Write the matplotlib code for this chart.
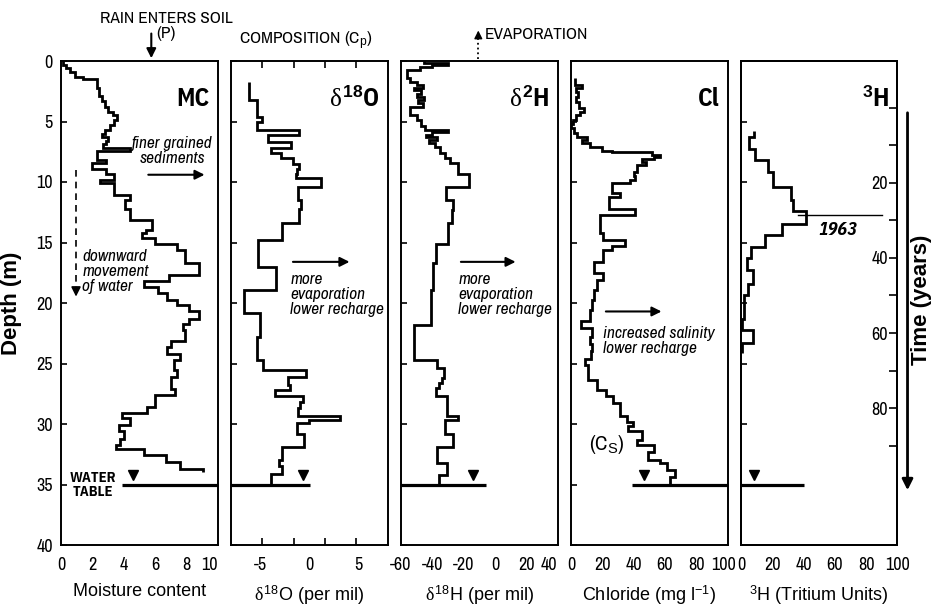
import numpy as np
import matplotlib
matplotlib.use('Agg')
import matplotlib.pyplot as plt

NARROW = ['Archivo Narrow', 'Liberation Sans', 'DejaVu Sans']
NARROW_BOLD = ['IBM Plex Sans Condensed', 'Liberation Sans', 'DejaVu Sans']
WIDE = ['Liberation Sans', 'DejaVu Sans']

plt.rcParams['font.family'] = NARROW
plt.rcParams['axes.unicode_minus'] = False
plt.rcParams['mathtext.fontset'] = 'custom'
plt.rcParams['mathtext.rm'] = 'Liberation Sans'
plt.rcParams['mathtext.it'] = 'Liberation Serif'
plt.rcParams['mathtext.bf'] = 'Liberation Sans:bold'

# ---- profiles: depth edges (m) and value in each interval ----
mc_depth = [0, 0.3, 0.6, 0.9, 1.3, 1.5, 2.2, 2.9, 3.3, 3.8, 4.2, 4.5, 4.9, 5.3, 5.7, 6.0,
            6.3, 6.6, 6.9, 7.2, 7.45, 8.2, 8.45, 8.9, 9.3, 9.8, 10.1, 11.1, 11.5, 12.2, 13.1,
            14.0, 14.2, 14.65, 15.1, 15.6, 16.7, 17.7, 18.2, 18.65, 19.2, 19.75, 20.2, 20.7,
            21.3, 21.7, 22.2, 23.1, 23.6, 24.2, 24.7, 25.5, 26.1, 27.1, 27.6, 28.6, 29.1, 29.5,
            30.1, 30.6, 31.2, 31.7, 32.1, 32.6, 33.1, 33.7, 34.0]
mc_value = [0.1, 0.3, 0.6, 0.9, 1.4, 2.3, 2.4, 2.6, 2.8, 3.0, 3.3, 3.6, 3.4, 3.1, 2.8,
            2.6, 3.0, 2.9, 2.7, 4.4, 2.3, 2.9, 2.0, 2.9, 3.4, 2.5, 3.4, 4.4, 4.1, 4.4,
            5.8, 5.4, 5.2, 6.0, 7.4, 7.9, 8.8, 6.9, 5.3, 6.2, 6.8, 7.4, 8.2, 8.8, 8.2,
            7.8, 7.95, 7.0, 6.8, 7.6, 7.2, 7.4, 7.0, 7.3, 6.0, 5.5, 3.9, 4.4, 3.7, 4.0,
            3.8, 3.5, 5.3, 6.7, 7.6, 9.1]

o18_depth = [1.7, 3.2, 4.6, 5.0, 5.7, 6.1, 6.7, 7.2, 7.6, 8.0, 8.5, 8.9, 9.3, 9.7, 10.4,
             11.5, 12.2, 13.4, 14.8, 17.0, 18.9, 20.85, 22.8, 24.7, 25.5, 26.1, 26.8, 27.2,
             27.7, 28.2, 28.7, 29.3, 29.7, 29.9, 30.8, 31.9, 33.0, 33.5, 34.1, 35.0]
o18_value = [-6.2, -5.3, -4.8, -5.3, -1.0, -4.2, -1.9, -3.9, -2.9, -1.7, -1.0, -1.3, -1.4,
             1.2, -1.15, -0.8, -1.0, -2.8, -5.25, -3.4, -6.7, -5.0, -5.35, -4.7, -0.3, -2.2,
             -1.95, -3.5, -0.65, -0.95, -1.2, 3.1, 0.0, -1.3, -0.5, -2.8, -3.05, -2.8, -3.9]

h2_depth = [0, 0.2, 0.35, 0.5, 0.75, 1.4, 1.7, 2.0, 2.2, 2.4, 2.7, 3.0, 3.2, 3.5, 3.8, 4.46,
            4.9, 5.4, 5.7, 5.85, 6.1, 6.3, 6.5, 6.8, 7.08, 7.6, 8.0, 8.45, 9.3, 10.4, 11.5,
            12.3, 13.4, 15.1, 16.7, 18.9, 21.8, 24.7, 25.4, 26.2, 26.6, 27.05, 27.7, 29.3,
            29.7, 30.8, 31.9, 33.25, 34.2, 35.0]
h2_value = [-45, -30, -40, -48, -56, -54, -50, -46, -52, -47, -50, -45, -49, -46, -54, -50,
            -47, -44.5, -30, -40, -44, -37, -42, -38, -35, -32, -28.6, -23.3, -16.8, -31.2,
            -26.5, -27.6, -29.7, -37.6, -39.3, -41, -51.7, -37.1, -32.4, -33.9, -36, -37.8,
            -30.7, -23.3, -31.8, -26.5, -36.7, -30.3, -35.4]

cl_depth = [1.43, 1.98, 2.26, 2.6, 3.0, 3.4, 3.9, 4.2, 4.46, 4.88, 5.2, 5.5, 5.98, 6.25, 6.5,
            6.8, 7.08, 7.4, 7.5, 7.77, 7.95, 8.13, 8.35, 8.6, 9.15, 9.5, 9.83, 10.1, 10.9,
            11.2, 12.2, 12.7, 14.2, 14.8, 15.3, 15.6, 16.6, 17.5, 18.1, 18.9, 19.75, 20.6,
            21.5, 22.1, 22.8, 23.4, 24.0, 24.6, 25.1, 26.4, 27.2, 27.7, 28.3, 29.3, 29.8,
            30.2, 30.6, 31.3, 31.7, 32.3, 33.0, 33.25, 33.8, 34.35, 35.0]
cl_value = [2.5, 7, 3, 4.5, 3.5, 5, 8, 6, 3.5, 1, 0.3, 2, 4, 10, 7, 12.2, 19.7, 26, 51.7,
            57, 53, 45.3, 48, 42, 40, 41, 37.8, 26, 31, 24, 41, 18.6, 20.7, 34.6, 26, 20.7,
            15, 20.7, 16.7, 15, 13.2, 12, 6.2, 13.2, 12, 13.5, 12.5, 9, 11, 16.5, 22.4, 27,
            31.4, 35.7, 39.5, 36.5, 45.3, 42, 52.8, 48.9, 57, 61.3, 66.7, 63.5]

h3_depth = [5.8, 6.3, 7.3, 8.2, 9.15, 10.4, 11.5, 12.4, 13.5, 14.4, 15.35, 16.3, 17.3, 18.4,
            19.3, 20.3, 21.3, 22.2, 23.3, 24.1]
h3_value = [8.3, 5.3, 8.9, 17.4, 20.2, 31.8, 33.3, 41.4, 25.9, 15.3, 6.2, 4.0, 7.9, 4.5,
            1.9, 1.6, 0.4, 7.4, 0.4]

# water table: depth, line extent and triangle position in each panel
wt_depth = 35
wt_lines = [(3.9, 10), (-8, 0.1), (-60, -5.5), (38.9, 100), (0, 40)]
wt_marks = [4.6, -0.6, -14, 46.8, 8.3]

# axes ranges and tick labels
xlims = [(0, 10), (-8, 8), (-60, 40), (0, 100), (0, 100)]
xtick_pos = [[0, 2, 4, 6, 8, 10], [-5, 0, 5], [-60, -40, -20, 0, 20, 40],
             [0, 20, 40, 60, 80, 97.5], [0, 20, 40, 60, 80, 100]]
xtick_lab = [['0', '2', '4', '6', '8', '10'], ['-5', '0', '5'],
             ['-60', '-40', '-20', '0', '20', '40'],
             ['0', '20', '40', '60', '80', '100'], ['0', '20', '40', '60', '80', '100']]
xlabels = ['Moisture content', r'$\delta^{18}$O (per mil)', r'$\delta^{18}$H (per mil)',
           r'Chloride (mg l$^{-1}$)', r'$^{3}$H (Tritium Units)']
titles = ['MC', r'$\delta^{\mathbf{18}}$O', r'$\delta^{\mathbf{2}}$H', 'Cl', r'$^{\mathbf{3}}$H']
last_label_right = [True, False, True, False, False]

time_major = [20, 40, 60, 80]
time_minor = [0, 10, 30, 50, 70, 90]

profiles = [(mc_value, mc_depth), (o18_value, o18_depth), (h2_value, h2_depth),
            (cl_value, cl_depth), (h3_value, h3_depth)]

W, H = 936.0, 608.0
fig = plt.figure(figsize=(9.36, 6.08), dpi=100)

axes = []
for i in range(5):
    ax = fig.add_axes([(61 + 170 * i) / W, 1 - 545 / H, 156.5 / W, 484 / H])
    lo, hi = xlims[i]
    ax.set_xlim(lo, hi)
    ax.set_ylim(40, 0)
    vals, edges = profiles[i]
    ax.stairs(vals, edges, orientation='horizontal', baseline=None, color='k', lw=2.0)

    ax.set_xticks(xtick_pos[i])
    ax.set_xticklabels(xtick_lab[i])
    ax.set_xticks(lo + (hi - lo) * np.array([0.2, 0.4, 0.6, 0.8]), minor=True)
    ax.tick_params(axis='x', which='major', length=0, pad=9, labelsize=13)
    ax.tick_params(axis='x', which='minor', direction='in', length=5, width=1.2,
                   top=True, bottom=True)
    if last_label_right[i]:
        ax.get_xticklabels()[-1].set_horizontalalignment('right')
    ax.set_yticks(np.arange(0, 41, 5))
    ax.tick_params(axis='y', which='major', direction='in', length=4, width=1.2,
                   labelleft=(i == 0), pad=6, labelsize=13)
    ax.set_xlabel(xlabels[i], fontsize=13, family=WIDE, labelpad=7)
    for s in ax.spines.values():
        s.set_linewidth(1.4)

    # water table
    ax.plot(wt_lines[i], [wt_depth, wt_depth], color='k', lw=2.3, solid_capstyle='butt',
            clip_on=False)
    ax.plot(wt_marks[i], wt_depth - 0.75, marker='v', ms=7, color='k')

    ax.text(0.95, 3.1, titles[i], transform=ax.get_yaxis_transform(), ha='right',
            va='center', fontsize=18, fontweight='bold', family=NARROW_BOLD)
    axes.append(ax)

ax1, ax2, ax3, ax4, ax5 = axes
arrow = dict(arrowstyle='-|>', color='k', lw=1.5, mutation_scale=14)
ital = dict(fontsize=12.5, fontstyle='italic', linespacing=1.0)

# MC panel
ax1.set_ylabel('Depth (m)', fontsize=16, fontweight='bold', family=WIDE, labelpad=10)
ax1.text(7.1, 7.4, 'finer grained\nsediments', ha='center', va='center', **ital)
ax1.annotate('', xy=(9.35, 9.4), xytext=(5.4, 9.4), arrowprops=arrow)
ax1.plot([0.96, 0.96], [9.0, 19.0], color='k', lw=1.2, ls=(0, (4, 3)))
ax1.annotate('', xy=(0.96, 19.7), xytext=(0.96, 18.9),
             arrowprops=dict(arrowstyle='-|>', color='k', lw=1.2, mutation_scale=14))
ax1.text(1.35, 17.4, 'downward\nmovement\nof water', ha='left', va='center', **ital)
ax1.text(2.05, 35.0, 'WATER\nTABLE', ha='center', va='center', fontsize=10.5,
         fontweight='bold', family=NARROW_BOLD, linespacing=1.0)
ax1.annotate('', xy=(5.77, 0.0), xytext=(5.77, -2.5), arrowprops=arrow, annotation_clip=False)
ax1.text(6.73, -3.5, 'RAIN ENTERS SOIL', ha='center', va='center', fontsize=12.5)
ax1.text(6.7, -2.3, '(P)', ha='center', va='center', fontsize=12.5)

# delta 18O panel
ax2.text(-0.4, -1.65, r'COMPOSITION (C$_\mathrm{p}$)', ha='center', va='center', fontsize=12.5)
ax2.annotate('', xy=(4.4, 16.6), xytext=(-1.95, 16.6), arrowprops=arrow)
ax2.text(-1.95, 19.3, 'more\nevaporation\nlower recharge', ha='left', va='center', **ital)

# delta 2H panel
ax3.plot([-10.6, -10.6], [-0.15, -1.9], color='k', lw=1.3, ls=':', clip_on=False)
ax3.annotate('', xy=(-10.6, -2.75), xytext=(-10.6, -1.9),
             arrowprops=dict(arrowstyle='-|>', color='k', lw=1.0, mutation_scale=12),
             annotation_clip=False)
ax3.text(-6.2, -2.15, 'EVAPORATION', ha='left', va='center', fontsize=12.5)
ax3.annotate('', xy=(15, 16.6), xytext=(-23.5, 16.6), arrowprops=arrow)
ax3.text(-23.5, 19.3, 'more\nevaporation\nlower recharge', ha='left', va='center', **ital)

# chloride panel
ax4.annotate('', xy=(59.6, 20.7), xytext=(20.5, 20.7), arrowprops=arrow)
ax4.text(20.5, 23.1, 'increased salinity\nlower recharge', ha='left', va='center', **ital)
ax4.text(23, 31.7, r'(C$_\mathrm{S}$)', ha='center', va='center', fontsize=15)

# tritium panel
ax5.plot([36.3, 89.8], [12.7, 12.7], color='k', lw=1.0)
ax5.text(61.8, 14.0, '1963', ha='center', va='center', fontsize=13, fontweight='bold',
         fontstyle='italic', family=NARROW_BOLD)

axt = ax5.twinx()
axt.set_ylim(116.5, -12.5)
axt.set_yticks(time_major)
axt.set_yticklabels([str(t) for t in time_major])
axt.set_yticks(time_minor, minor=True)
axt.tick_params(axis='y', which='both', direction='in', length=6, width=1.2, pad=-7,
                labelsize=13)
for lbl in axt.get_yticklabels():
    lbl.set_horizontalalignment('right')
for s in axt.spines.values():
    s.set_linewidth(1.4)

tr = ax5.get_yaxis_transform()
ax5.annotate('', xy=(1.064, 35.7), xytext=(1.064, 4.05), xycoords=tr, textcoords=tr,
             arrowprops=dict(arrowstyle='-|>', color='k', lw=2.0, mutation_scale=16),
             annotation_clip=False)
fig.text(922 / W, 1 - 300 / H, 'Time (years)', rotation=90, ha='center', va='center',
         fontsize=16, fontweight='bold', family=WIDE)

fig.savefig('out.png', dpi=100)
